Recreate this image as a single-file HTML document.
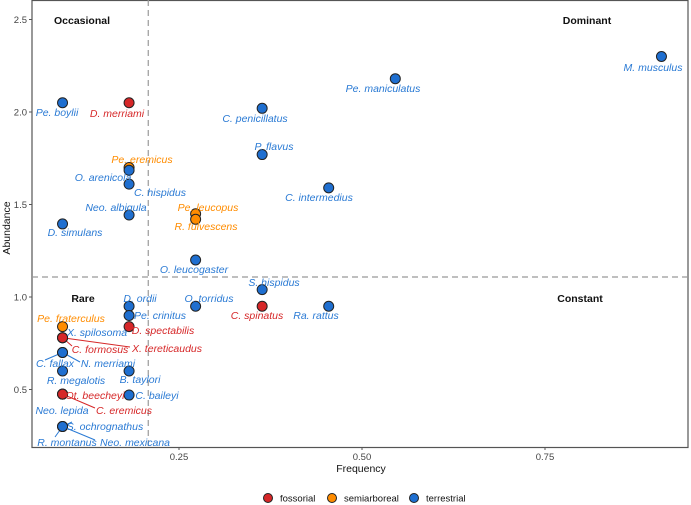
<!DOCTYPE html>
<html><head><meta charset="utf-8"><style>
body{margin:0;background:#fff}
svg{display:block;font-family:"Liberation Sans",Arial,sans-serif}
</style></head><body>
<svg id="chart" width="691" height="505" viewBox="0 0 691 505"></svg>
<script>
const species=["Pe. boylii","D. merriami","Pe. eremicus","O. arenicola","C. hispidus","Neo. albigula","D. simulans","Pe. leucopus","R. fulvescens","C. penicillatus","P. flavus","C. intermedius","Pe. maniculatus","M. musculus","O. leucogaster","S. hispidus","C. spinatus","Ra. rattus","O. torridus","D. ordii","Pe. crinitus","D. spectabilis","B. taylori","C. baileyi","Pe. fraterculus","X. spilosoma","C. formosus","X. tereticaudus","C. fallax","N. merriami","R. megalotis","Ot. beecheyi","Neo. lepida","C. eremicus","S. ochrognathus","R. montanus","Neo. mexicana"];
const frequency=[0.0909,0.1818,0.1818,0.1818,0.1818,0.1818,0.0909,0.2727,0.2727,0.3636,0.3636,0.4545,0.5455,0.9091,0.2727,0.3636,0.3636,0.4545,0.2727,0.1818,0.1818,0.1818,0.1818,0.1818,0.0909,0.0909,0.0909,0.0909,0.0909,0.0909,0.0909,0.0909,0.0909,0.0909,0.0909,0.0909,0.0909];
const abundance=[2.05,2.05,1.70,1.685,1.61,1.443,1.395,1.45,1.42,2.02,1.77,1.59,2.18,2.30,1.20,1.04,0.95,0.95,0.95,0.95,0.90,0.84,0.60,0.47,0.84,0.78,0.78,0.78,0.70,0.70,0.60,0.475,0.475,0.475,0.30,0.30,0.30];
const habit=["t","f","s","t","t","t","t","s","s","t","t","t","t","t","t","t","f","t","t","t","t","f","t","t","s","t","f","f","t","t","t","f","t","f","t","t","t"];
const xTicks=[0.25,0.5,0.75];
const yTicks=[0.5,1.0,1.5,2.0,2.5];
const freqCut=0.208, abundCut=1.108;
// label placement (layout)
const labelPos=[[57,112],[117,113],[142,159],[103,177],[160,192],[116,207],[75,232],[208,207],[206,226],[255,118],[274,146],[319,197],[383,88],[653,67],[194,269],[274,282],[257,315],[316,315],[209,298],[140,298],[160,315],[163,330],[140,379],[157,395],[71,318],[97,332],[100,349],[167,348],[55,363],[108,363],[76,380],[95,395],[62,410],[124,410],[105,426],[67,442],[135,442]];
const leaders=[[27,130,347],[26,72,346],[28,45,360],[29,80,362],[31,68,393],[33,95,408],[34,72,422],[35,55,437],[36,95,440]];

const svg=document.getElementById('chart');
const NS='http://www.w3.org/2000/svg';
const L=32,R=688,T=0,B=447;
const xs=v=>179+(v-0.25)*732;
const ys=v=>297-(v-1)*185;
const fill={f:'#d62728',s:'#ff8c00',t:'#1f6fd0'};
const tcol={f:'#d62728',s:'#ff8c00',t:'#2a7ad4'};
function el(tag,attrs,parent){const e=document.createElementNS(NS,tag);for(const k in attrs)e.setAttribute(k,attrs[k]);(parent||svg).appendChild(e);return e;}

const panel=el('rect',{x:L,y:T+0.5,width:R-L,height:B-T,fill:'#fff',stroke:'#555','stroke-width':1.2});


const vl=el('line',{x1:xs(freqCut),x2:xs(freqCut),y1:T,y2:B,stroke:'#999','stroke-dasharray':'6,4','stroke-width':1.2});


const hl=el('line',{x1:L,x2:R,y1:ys(abundCut),y2:ys(abundCut),stroke:'#999','stroke-dasharray':'6,4','stroke-width':1.2});



xTicks.forEach(v=>{
  const t=el('line',{x1:xs(v),x2:xs(v),y1:B,y2:B+3,stroke:'#555'});
  
  
  const tx=el('text',{x:xs(v),y:B+13,'text-anchor':'middle','font-size':9.5,fill:'#444'});
  tx.textContent=v.toFixed(2);
  
  
});
yTicks.forEach(v=>{
  const t=el('line',{x1:L-3,x2:L,y1:ys(v),y2:ys(v),stroke:'#555'});
  
  
  const tx=el('text',{x:L-5,y:ys(v)+3.5,'text-anchor':'end','font-size':9.5,fill:'#444'});
  tx.textContent=v.toFixed(1);
  
  
});
const xt=el('text',{x:361,y:472,'text-anchor':'middle','font-size':10.5,fill:'#111'});
xt.textContent='Frequency';


const yt=el('text',{x:10,y:228,'text-anchor':'middle','font-size':10.5,fill:'#111',transform:'rotate(-90 10 228)'});
yt.textContent='Abundance';



[['Occasional',82,24],['Dominant',587,24],['Rare',83,302],['Constant',580,302]].forEach(q=>{
  const t=el('text',{x:q[1],y:q[2],'text-anchor':'middle','font-size':10.5,'font-weight':'bold',fill:'#111'});
  t.textContent=q[0];
  
  
});

leaders.forEach(l=>{
  const i=l[0];
  const ln=el('line',{x1:xs(frequency[i]),y1:ys(abundance[i]),x2:l[1],y2:l[2],stroke:tcol[habit[i]],'stroke-width':1});
  
  
});

species.forEach((s,i)=>{
  const c=el('circle',{cx:xs(frequency[i]),cy:ys(abundance[i]),r:5,fill:fill[habit[i]],stroke:'#222','stroke-width':1});
  
  
});
species.forEach((s,i)=>{
  const p=labelPos[i];
  const t=el('text',{x:p[0],y:p[1]+4,'text-anchor':'middle','font-size':10.5,'font-style':'italic',fill:tcol[habit[i]]});
  t.textContent=s;
  
  
});

[['fossorial','f',268],['semiarboreal','s',332],['terrestrial','t',414]].forEach(g=>{
  const c=el('circle',{cx:g[2],cy:498,r:4.5,fill:fill[g[1]],stroke:'#222','stroke-width':1});
  
  
  const t=el('text',{x:g[2]+12,y:501.5,'font-size':9.5,fill:'#111'});
  t.textContent=g[0];
  
  
});
</script>
</body></html>
